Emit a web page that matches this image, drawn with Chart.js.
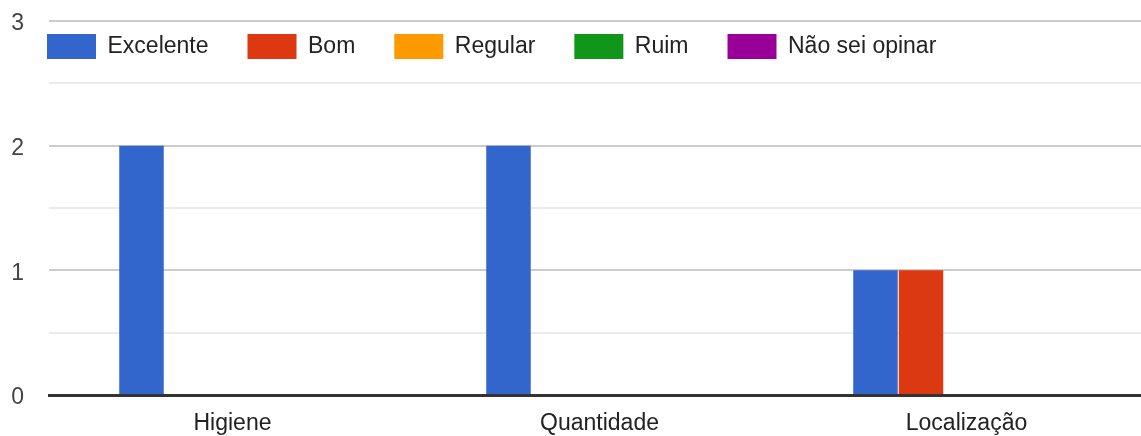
<!DOCTYPE html>
<html>
<head>
<meta charset="utf-8">
<script src="https://cdn.jsdelivr.net/npm/chart.js@4.4.0/dist/chart.umd.min.js"></script>
<style>
  html, body { margin: 0; padding: 0; background: #ffffff; overflow: hidden; }
  #wrap { width: 1141px; height: 436px; position: relative; overflow: hidden; }
  #c { display: block; }
</style>
</head>
<body>
<div id="wrap"><canvas id="c" width="1150" height="436"></canvas></div>
<script>
const categories = ['Higiene', 'Quantidade', 'Localização'];
const seriesNames = ['Excelente', 'Bom', 'Regular', 'Ruim', 'Não sei opinar'];
const seriesColors = ['#3366cc', '#dc3912', '#ff9900', '#109618', '#990099'];
const excelente = [2, 2, 1];
const bom = [0, 0, 1];
const regular = [0, 0, 0];
const ruim = [0, 0, 0];
const naoSeiOpinar = [0, 0, 0];
const yTickLabels = [0, 1, 2, 3];

const seriesValues = [excelente, bom, regular, ruim, naoSeiOpinar];
const FONT = "'Liberation Sans', Arial, Helvetica, sans-serif";

const overlayLegend = {
  id: 'overlayLegend',
  beforeLayout(chart) {
    const lg = chart.legend;
    if (lg && !lg.__patched) {
      const fit = lg.fit;
      lg.fit = function () { fit.call(this); this.height = 0; };
      lg.__patched = true;
    }
  },
  afterLayout(chart) {
    const lg = chart.legend;
    if (!lg) return;
    lg.left = 8;
    lg.top = -5;
    lg.right = chart.width;
    lg.bottom = 90;
    lg.width = lg.right - lg.left;
    lg.height = lg.bottom - lg.top;
  }
};

new Chart(document.getElementById('c'), {
  type: 'bar',
  data: {
    labels: categories,
    datasets: seriesNames.map((name, i) => ({
      label: name,
      data: seriesValues[i],
      backgroundColor: seriesColors[i],
      borderWidth: 0,
      categoryPercentage: 0.62,
      barPercentage: 0.978
    }))
  },
  plugins: [overlayLegend],
  options: {
    responsive: false,
    animation: false,
    devicePixelRatio: 1,
    layout: { padding: { top: 21, right: 0, left: 0, bottom: 0 } },
    plugins: {
      tooltip: { enabled: false },
      legend: {
        display: true,
        position: 'top',
        align: 'start',
        labels: {
          boxWidth: 49,
          boxHeight: 25,
          padding: 39,
          color: '#222222',
          font: { family: FONT, size: 23 }
        }
      }
    },
    scales: {
      x: {
        z: 1,
        afterFit(scale) {
          scale.height = 41;
          scale.paddingLeft = 0;
          scale.paddingRight = 0;
        },
        grid: { display: false, drawTicks: false },
        border: { display: true, color: '#333333', width: 3 },
        ticks: {
          color: '#222222',
          padding: 15,
          font: { family: FONT, size: 23 }
        }
      },
      y: {
        min: 0,
        max: 3,
        afterFit(scale) {
          scale.width = 49;
          scale.paddingTop = 0;
          scale.paddingBottom = 0;
        },
        border: { display: false },
        grid: {
          drawTicks: false,
          lineWidth: 2,
          color(ctx) {
            const v = ctx.tick ? ctx.tick.value : 0;
            if (v === 0) return 'rgba(0,0,0,0)';
            return Number.isInteger(v) ? '#cccccc' : '#ebebeb';
          }
        },
        ticks: {
          stepSize: 0.5,
          padding: 25,
          labelOffset: 3,
          color: '#444444',
          font: { family: FONT, size: 23 },
          callback(value) {
            return yTickLabels.includes(value) ? String(value) : '';
          }
        }
      }
    }
  }
});
</script>
</body>
</html>
